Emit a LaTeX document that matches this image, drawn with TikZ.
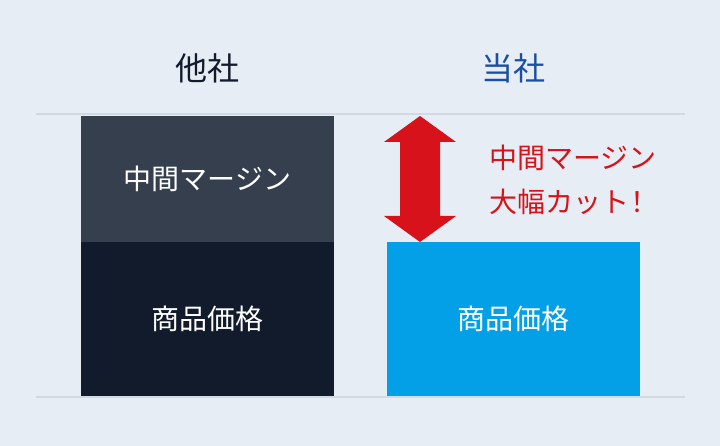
\documentclass[tikz,border=0pt]{standalone}
\usepackage{fontspec}
\newfontfamily\jpfont{Noto Sans CJK JP}
\usetikzlibrary{positioning}
\definecolor{bgcol}{HTML}{E6EDF4}
\definecolor{rulecol}{HTML}{D3D9E2}
\definecolor{margincol}{HTML}{363F4E}
\definecolor{oldcol}{HTML}{111B2B}
\definecolor{newcol}{HTML}{03A0E8}
\definecolor{cutred}{HTML}{D7121A}
\definecolor{oursblue}{HTML}{1A4FA3}
\tikzset{
    box/.style={minimum width=253pt, inner sep=0pt, outer sep=0pt, text=white, font=\jpfont\fontsize{28}{34}\selectfont},
    heading/.style={font=\jpfont\fontsize{32}{36}\selectfont},
    rule/.style={draw=rulecol, line width=2pt}
}
\begin{document}
\begin{tikzpicture}[x=1pt, y=-1pt]
    \useasboundingbox (0,0) rectangle (720,446);
    \fill[bgcol] (0,0) rectangle (720,446);

    % base lines
    \draw[rule] (36,114) -- (685,114);
    \draw[rule] (36,397) -- (685,397);

    % others: margin on top of the price
    \node[box, fill=margincol, minimum height=126pt, anchor=north west] (margin) at (81,116) {中間マージン};
    \node[box, fill=oldcol, minimum height=154pt, below=0pt of margin] (oldprice) {商品価格};

    % ours: price only
    \node[box, fill=newcol, minimum height=154pt, right=53pt of oldprice] (newprice) {商品価格};

    \node[heading, text=oldcol] (other) at (margin.north |- 0,68) {他社};
    \node[heading, text=oursblue] (ours) at (newprice.north |- 0,68) {当社};

    % cut arrow
    \coordinate (cuttop) at (newprice.north west |- margin.north);
    \fill[cutred] (cuttop) ++(33,0) -- ++(36,26) -- ++(-16,0) -- ++(0,74) -- ++(16,0)
        -- ++(-36,26) -- ++(-36,-26) -- ++(16,0) -- ++(0,-74) -- ++(-16,0) -- cycle;

    \node[anchor=west, align=left, text=cutred, inner sep=0pt,
        font=\jpfont\fontsize{28}{44}\selectfont] (cut) at (489,180) {中間マージン\\大幅カット\kern-6pt！};
\end{tikzpicture}
\end{document}
